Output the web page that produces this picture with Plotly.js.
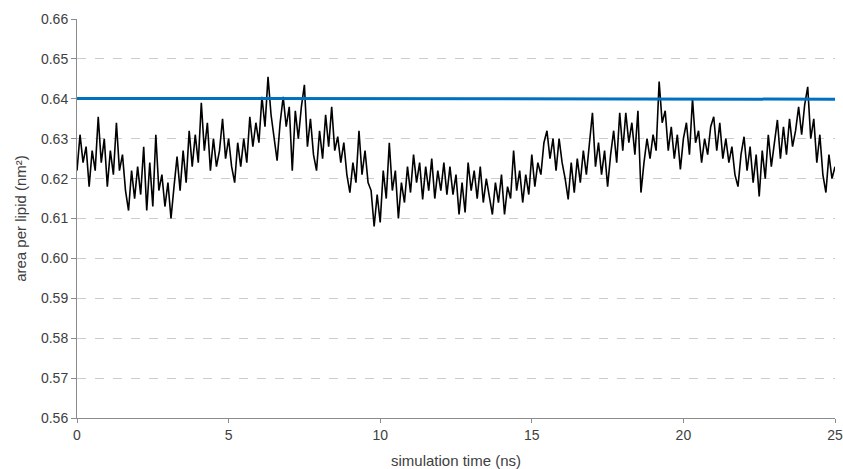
<!DOCTYPE html>
<html>
<head>
<meta charset="utf-8">
<script src="https://cdn.plot.ly/plotly-3.0.1.min.js"></script>
<style>html,body{margin:0;padding:0;background:#fff;}#chart{width:843px;height:469px;}</style>
</head>
<body>
<div id="chart"></div>
<script>
// simulation time (ns), step 0.1
const timeStep = 0.1;
// area per lipid (nm^2)
const areaPerLipid = [
  0.622, 0.631, 0.624, 0.628, 0.618, 0.627, 0.622, 0.6355, 0.624, 0.630,
  0.618, 0.627, 0.621, 0.634, 0.622, 0.626, 0.617, 0.612, 0.622, 0.615,
  0.623, 0.616, 0.628, 0.612, 0.624, 0.613, 0.631, 0.617, 0.621, 0.613,
  0.619, 0.610, 0.618, 0.6255, 0.617, 0.627, 0.619, 0.632, 0.623, 0.631,
  0.624, 0.639, 0.627, 0.634, 0.622, 0.630, 0.623, 0.627, 0.635, 0.625,
  0.630, 0.623, 0.619, 0.629, 0.623, 0.630, 0.624, 0.6355, 0.628, 0.634,
  0.629, 0.6405, 0.633, 0.6455, 0.636, 0.630, 0.6245, 0.634, 0.6405, 0.633,
  0.638, 0.622, 0.637, 0.630, 0.638, 0.6435, 0.628, 0.635, 0.626, 0.622,
  0.632, 0.625, 0.636, 0.628, 0.638, 0.627, 0.6305, 0.624, 0.629, 0.621,
  0.6165, 0.624, 0.619, 0.632, 0.621, 0.627, 0.619, 0.617, 0.608, 0.616,
  0.609, 0.622, 0.615, 0.629, 0.617, 0.622, 0.610, 0.619, 0.614, 0.623,
  0.6165, 0.626, 0.619, 0.624, 0.6148, 0.623, 0.617, 0.625, 0.615, 0.622,
  0.617, 0.624, 0.616, 0.623, 0.616, 0.621, 0.611, 0.619, 0.6115, 0.624,
  0.617, 0.622, 0.615, 0.623, 0.614, 0.620, 0.615, 0.611, 0.619, 0.614,
  0.621, 0.611, 0.618, 0.615, 0.627, 0.617, 0.622, 0.614, 0.621, 0.616,
  0.626, 0.618, 0.624, 0.621, 0.629, 0.632, 0.625, 0.630, 0.622, 0.630,
  0.624, 0.620, 0.6148, 0.624, 0.6165, 0.625, 0.619, 0.627, 0.621, 0.628,
  0.6365, 0.623, 0.629, 0.621, 0.627, 0.618, 0.626, 0.632, 0.624, 0.6365,
  0.627, 0.6365, 0.629, 0.634, 0.626, 0.637, 0.6165, 0.624, 0.630, 0.625,
  0.631, 0.627, 0.6443, 0.634, 0.637, 0.627, 0.633, 0.625, 0.631, 0.6223,
  0.630, 0.634, 0.626, 0.640, 0.629, 0.632, 0.624, 0.630, 0.626, 0.633,
  0.6355, 0.627, 0.634, 0.625, 0.630, 0.624, 0.628, 0.621, 0.618, 0.626,
  0.6305, 0.622, 0.628, 0.619, 0.626, 0.6155, 0.627, 0.620, 0.631, 0.623,
  0.629, 0.6347, 0.625, 0.633, 0.626, 0.635, 0.628, 0.632, 0.638, 0.631,
  0.6385, 0.643, 0.630, 0.635, 0.624, 0.631, 0.621, 0.6165, 0.626, 0.620,
  0.623
];
const refTime = [0, 25];
const refArea = [0.6401, 0.6399];
const xTicks = [0, 5, 10, 15, 20, 25];
const yTicks = [0.56, 0.57, 0.58, 0.59, 0.60, 0.61, 0.62, 0.63, 0.64, 0.65, 0.66];

const simTime = areaPerLipid.map((_, i) => +(i * timeStep).toFixed(2));

const traces = [
  {x: simTime, y: areaPerLipid, type: 'scatter', mode: 'lines',
   line: {color: '#000000', width: 1.6}, showlegend: false, hoverinfo: 'skip'},
  {x: refTime, y: refArea, type: 'scatter', mode: 'lines',
   line: {color: '#0070C0', width: 3}, showlegend: false, hoverinfo: 'skip'}
];

const fontFam = 'Liberation Sans, Arial, sans-serif';
const layout = {
  width: 843, height: 469,
  margin: {l: 77, r: 8, t: 19, b: 51},
  paper_bgcolor: '#ffffff', plot_bgcolor: '#ffffff',
  font: {family: fontFam, color: '#404040', size: 14},
  xaxis: {
    range: [0, 25], tickvals: xTicks, ticktext: xTicks.map(String),
    showgrid: false, zeroline: false,
    showline: true, linecolor: '#8c8c8c', linewidth: 1,
    ticks: 'outside', ticklen: 4, tickcolor: '#8c8c8c',
    tickfont: {family: fontFam, size: 14, color: '#404040'},
    title: {text: 'simulation time (ns)', font: {family: fontFam, size: 15, color: '#404040'}, standoff: 14}
  },
  yaxis: {
    range: [0.56, 0.66], tickvals: yTicks, ticktext: yTicks.map(v => v.toFixed(2)),
    showgrid: true, gridcolor: '#cccccc', griddash: 'dash', gridwidth: 1,
    zeroline: false,
    showline: true, linecolor: '#8c8c8c', linewidth: 1,
    ticks: 'outside', ticklen: 5, tickcolor: '#8c8c8c',
    tickfont: {family: fontFam, size: 14, color: '#404040'},
    title: {text: 'area per lipid (nm²)', font: {family: fontFam, size: 15, color: '#404040'}, standoff: 10}
  }
};

Plotly.newPlot('chart', traces, layout, {staticPlot: true, displayModeBar: false});
</script>
</body>
</html>
